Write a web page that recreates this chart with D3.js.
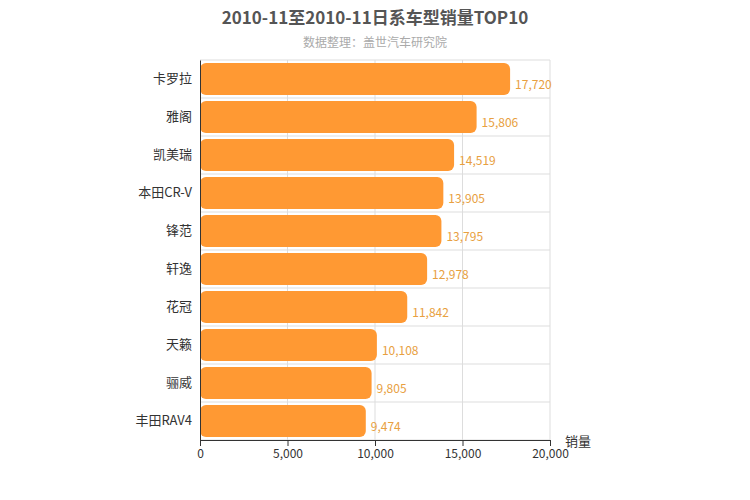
<!DOCTYPE html>
<html><head><meta charset="utf-8">
<script src="https://cdn.jsdelivr.net/npm/d3@7"></script>
<style>body{margin:0;background:#fff;font-family:"Noto Sans CJK SC","Noto Sans",sans-serif;}</style>
</head><body><div id="chart"></div>
<script>
const models = ["卡罗拉","雅阁","凯美瑞","本田CR-V","锋范","轩逸","花冠","天籁","骊威","丰田RAV4"];
const sales = [17720,15806,14519,13905,13795,12978,11842,10108,9805,9474];
const xTicks = [0,5000,10000,15000,20000];

const svg = d3.select("#chart").append("svg").attr("width",750).attr("height",500);

const x = d3.scaleLinear().domain([0,20000]).range([200,550]);
const y = d3.scaleBand().domain(models).range([60,440]).paddingInner(0.16).paddingOuter(0.08);

// grid
svg.append("g").selectAll("line").data(xTicks.slice(1)).join("line")
  .attr("x1",d=>x(d)).attr("x2",d=>x(d)).attr("y1",60).attr("y2",440)
  .attr("stroke","#ddd");
svg.append("g").selectAll("line").data(d3.range(0,11)).join("line")
  .attr("x1",200).attr("x2",550).attr("y1",i=>60+i*38).attr("y2",i=>60+i*38)
  .attr("stroke","#ddd");

svg.append("g").selectAll("rect").data(models).join("rect")
  .attr("x",x(0)).attr("y",d=>y(d)).attr("height",y.bandwidth())
  .attr("width",(d,i)=>x(sales[i])-x(0)).attr("rx",6)
  .attr("fill","#ff9933");

svg.append("g").selectAll("text").data(models).join("text")
  .attr("x",(d,i)=>x(sales[i])+5).attr("y",d=>y(d)+y.bandwidth()/2+10)
  .attr("font-size",12).attr("fill","#e8a040")
  .text((d,i)=>d3.format(",")(sales[i]));

const xAxis = svg.append("g").attr("transform","translate(0,440)")
  .call(d3.axisBottom(x).tickValues(xTicks).tickFormat(d3.format(",")).tickSizeOuter(0));
const yAxis = svg.append("g").attr("transform","translate(200,0)")
  .call(d3.axisLeft(y).tickSize(0).tickPadding(8));
[xAxis,yAxis].forEach(a=>{
  a.selectAll("text").attr("font-size",12).attr("fill","#333").attr("font-family",'"Noto Sans CJK SC",sans-serif');
  a.select(".domain").attr("stroke","#333");
});
yAxis.selectAll("text").attr("font-size",13);
xAxis.selectAll(".tick line").attr("stroke","#333");

svg.append("text").attr("x",565).attr("y",446).attr("font-size",13).attr("fill","#333").text("销量");
svg.append("text").attr("x",375).attr("y",24).attr("text-anchor","middle")
  .attr("font-size",17).attr("font-weight","bold").attr("fill","#555").text("2010-11至2010-11日系车型销量TOP10");
svg.append("text").attr("x",375).attr("y",47).attr("text-anchor","middle")
  .attr("font-size",12).attr("fill","#aaa").text("数据整理：盖世汽车研究院");
</script></body></html>
